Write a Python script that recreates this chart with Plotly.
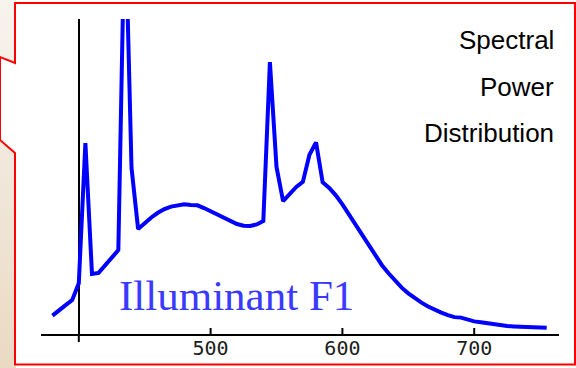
import plotly.graph_objects as go

# CIE Illuminant F1 relative spectral power (5 nm steps)
wavelength = list(range(380, 760, 5))
power = [1.87, 2.36, 2.94, 3.47, 5.17, 19.49, 6.13, 6.24, 7.01, 7.79,
         8.56, 43.67, 16.94, 10.72, 11.35, 11.89, 12.37, 12.75, 13.00, 13.15,
         13.23, 13.17, 13.13, 12.85, 12.52, 12.20, 11.83, 11.50, 11.22, 11.05,
         11.03, 11.18, 11.53, 27.74, 17.05, 13.55, 14.33, 15.01, 15.52, 18.29,
         19.55, 15.48, 14.91, 14.15, 13.22, 12.19, 11.12, 10.03, 8.95, 7.96,
         7.02, 6.20, 5.42, 4.73, 4.15, 3.64, 3.20, 2.81, 2.47, 2.18,
         1.93, 1.72, 1.67, 1.43, 1.29, 1.19, 1.08, 0.96, 0.88, 0.81,
         0.77, 0.75, 0.73, 0.68, 0.69, 0.64]
tick_values = [500, 600, 700]
tick_labels = ["500", "600", "700"]
title_lines = ["Spectral", "Power", "Distribution"]
curve_label = "Illuminant F1"

W, H = 576, 368
ML, MR, MT, MB = 0, 0, 19, 34
PW, PH = W - ML - MR, H - MT - MB


def px(x):
    return (x - ML) / PW


def py(y):
    return (H - MB - y) / PH


def lerp(c1, c2, t):
    return "rgb(%d,%d,%d)" % tuple(round(a + (b - a) * t) for a, b in zip(c1, c2))


# axis scale: 1.318 px per nm, 400 nm at x=78.8 ; 9.8 px per unit, 0 at y=334
sx, x400 = 1.318, 78.8
sy, y0px = 9.8, 334

shapes = []
# left gradient strip
top_c, bot_c = (247, 243, 237), (234, 218, 196)
n = 46
for i in range(n):
    y0 = H * i / n
    y1 = H * (i + 1) / n + 0.5
    shapes.append(dict(type="rect", xref="paper", yref="paper",
                       x0=px(0), x1=px(16), y0=py(y0), y1=py(y1),
                       fillcolor=lerp(top_c, bot_c, i / (n - 1)),
                       line=dict(width=0), layer="below"))
# callout box
pts = [(15, 3), (575, 3), (575, 364.5), (15, 364.5), (15, 153), (0, 140),
       (0, 57), (15, 63)]
path = "M " + " L ".join("%f,%f" % (px(a), py(b)) for a, b in pts) + " Z"
shapes.append(dict(type="path", xref="paper", yref="paper", path=path,
                   fillcolor="white", line=dict(color="#ff0000", width=2),
                   layer="below"))
# short extension of the vertical axis below the horizontal axis
shapes.append(dict(type="line", xref="paper", yref="paper",
                   x0=px(x400), x1=px(x400), y0=py(y0px), y1=py(342),
                   line=dict(color="black", width=2)))
# upward tick marks placed on the x scale
for v in tick_values:
    shapes.append(dict(type="line", xref="x", yref="paper",
                       x0=v, x1=v, y0=py(y0px), y1=py(y0px - 6),
                       line=dict(color="black", width=2)))

fig = go.Figure()
fig.add_trace(go.Scatter(x=wavelength, y=power, mode="lines",
                         line=dict(color="#0000ff", width=4),
                         hoverinfo="skip", showlegend=False))

x_dom = [41 / W, 559 / W]
x_range = [400 - (x400 - 41) / sx, 400 + (559 - x400) / sx]
y_range = [(y0px - (H - MB)) / sy, (y0px - MT) / sy]

annotations = []
for i, t in enumerate(title_lines):
    annotations.append(dict(text=t, xref="paper", yref="paper",
                            x=px(556), y=py([40, 87, 133][i]),
                            xanchor="right", yanchor="middle", showarrow=False,
                            font=dict(family="Liberation Sans, Arial", size=26,
                                      color="black")))
annotations.append(dict(text=curve_label, xref="paper", yref="paper",
                        x=px(236), y=py(295), xanchor="center", yanchor="middle",
                        showarrow=False,
                        font=dict(family="Liberation Serif, Times New Roman",
                                  size=43, color="#3a3aff")))

fig.update_layout(
    width=W, height=H,
    margin=dict(l=ML, r=MR, t=MT, b=MB, pad=0),
    paper_bgcolor="white", plot_bgcolor="rgba(0,0,0,0)",
    shapes=shapes, annotations=annotations,
    xaxis=dict(domain=x_dom, range=x_range, anchor="y",
               showline=True, linecolor="black", linewidth=2,
               ticks="",
               tickmode="array", tickvals=tick_values, ticktext=tick_labels,
               ticklabelstandoff=-5,
               tickfont=dict(family="DejaVu Sans Mono", size=20, color="#1c1c1c"),
               showgrid=False, zeroline=False, fixedrange=True),
    yaxis=dict(range=y_range, anchor="free", position=px(x400),
               showline=True, linecolor="black", linewidth=2,
               layer="below traces",
               showticklabels=False, ticks="", showgrid=False, zeroline=False,
               fixedrange=True),
)

fig.write_html("out.html", config={"displayModeBar": False},
               post_script="document.body.style.margin='0';"
                           "document.body.style.overflow='hidden';")
